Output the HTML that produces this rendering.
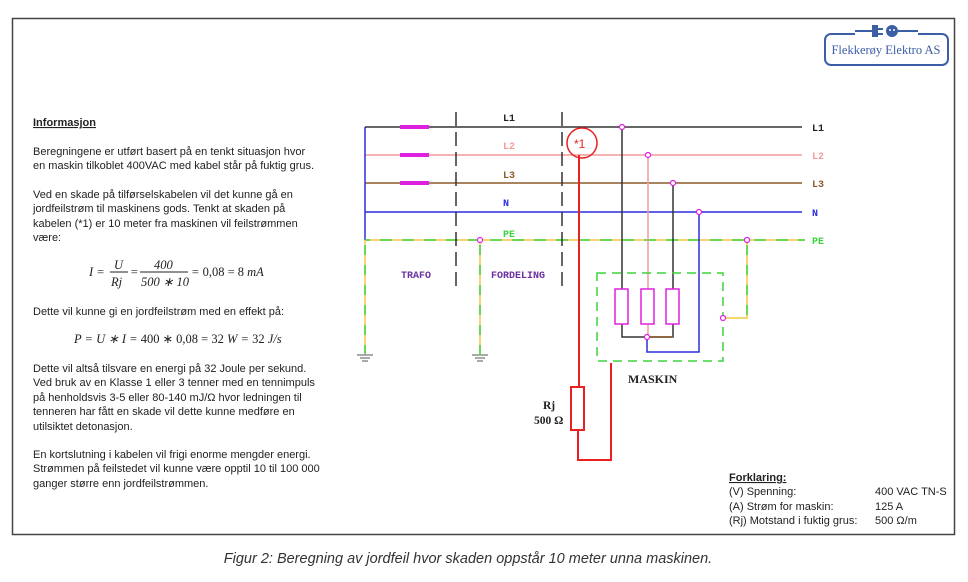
<!DOCTYPE html>
<html><head><meta charset="utf-8"><style>
body{margin:0;background:#fff;width:968px;height:582px;overflow:hidden}
svg{display:block}
.t{font-family:"Liberation Sans",sans-serif;font-size:11px;fill:#222}
.m{font-family:"Liberation Serif",serif;font-style:italic;font-size:12.5px;fill:#222}
.c{font-family:"Liberation Mono",monospace;font-size:10px;font-weight:bold}
</style></head><body>
<svg width="968" height="582" viewBox="0 0 968 582">
<rect x="12.5" y="18.5" width="942" height="516" fill="none" stroke="#444" stroke-width="1.5"/>
<!-- logo -->
<rect x="825" y="34" width="123" height="31" rx="6" fill="none" stroke="#3b5ea6" stroke-width="2"/>
<line x1="855" y1="34" x2="918" y2="34" stroke="#fff" stroke-width="3"/>
<line x1="855" y1="31" x2="872" y2="31" stroke="#3b5ea6" stroke-width="2"/>
<rect x="872" y="25" width="6" height="12" fill="#3b5ea6"/><rect x="878" y="28" width="5" height="2" fill="#3b5ea6"/><rect x="878" y="33" width="5" height="2" fill="#3b5ea6"/>
<circle cx="892" cy="31" r="6" fill="#3b5ea6"/><circle cx="890" cy="30" r="1" fill="#fff"/><circle cx="894" cy="30" r="1" fill="#fff"/>
<line x1="898" y1="31" x2="918" y2="31" stroke="#3b5ea6" stroke-width="2"/>
<text x="886" y="54" text-anchor="middle" font-family="Liberation Serif,serif" font-size="12.5" fill="#3b5ea6">Flekkerøy Elektro AS</text>
<!-- left text -->
<text class="t" x="33" y="126" font-weight="bold" text-decoration="underline">Informasjon</text>
<text class="t" x="33" y="155">Beregningene er utført basert på en tenkt situasjon hvor</text>
<text class="t" x="33" y="169">en maskin tilkoblet 400VAC med kabel står på fuktig grus.</text>
<text class="t" x="33" y="198">Ved en skade på tilførselskabelen vil det kunne gå en</text>
<text class="t" x="33" y="212">jordfeilstrøm til maskinens gods. Tenkt at skaden på</text>
<text class="t" x="33" y="227">kabelen (*1) er 10 meter fra maskinen vil feilstrømmen</text>
<text class="t" x="33" y="241">være:</text>
<text class="m" x="89" y="276">I =</text>
<text class="m" x="114" y="269">U</text><line x1="110" y1="272" x2="128" y2="272" stroke="#222"/><text class="m" x="111" y="286">Rj</text>
<text class="m" x="130" y="276">=</text>
<text class="m" x="154" y="269" font-style="normal">400</text><line x1="140" y1="272" x2="188" y2="272" stroke="#222"/><text class="m" x="141" y="286" font-style="normal">500 ∗ 10</text>
<text class="m" x="191" y="276">= <tspan font-style="normal">0,08 = 8</tspan> mA</text>
<text class="t" x="33" y="315">Dette vil kunne gi en jordfeilstrøm med en effekt på:</text>
<text class="m" x="74" y="343">P = U ∗ I = <tspan font-style="normal">400 ∗ 0,08 = 32</tspan> W = <tspan font-style="normal">32</tspan> J/s</text>
<text class="t" x="33" y="372">Dette vil altså tilsvare en energi på 32 Joule per sekund.</text>
<text class="t" x="33" y="386">Ved bruk av en Klasse 1 eller 3 tenner med en tennimpuls</text>
<text class="t" x="33" y="401">på henholdsvis 3-5 eller 80-140 mJ/Ω hvor ledningen til</text>
<text class="t" x="33" y="415">tenneren har fått en skade vil dette kunne medføre en</text>
<text class="t" x="33" y="430">utilsiktet detonasjon.</text>
<text class="t" x="33" y="458">En kortslutning i kabelen vil frigi enorme mengder energi.</text>
<text class="t" x="33" y="472">Strømmen på feilstedet vil kunne være opptil 10 til 100 000</text>
<text class="t" x="33" y="487">ganger større enn jordfeilstrømmen.</text>
<!-- diagram lines -->
<g stroke-width="1.5" fill="none">
<line x1="365" y1="127" x2="802" y2="127" stroke="#333"/>
<line x1="365" y1="155" x2="802" y2="155" stroke="#f49a9a"/>
<line x1="365" y1="183" x2="802" y2="183" stroke="#8b5a2b"/>
<line x1="365" y1="212" x2="802" y2="212" stroke="#2d2de0"/>
<line x1="365" y1="127" x2="365" y2="240" stroke="#2d2de0"/>
<line x1="365" y1="240" x2="805" y2="240" stroke="#f5c542"/>
<line x1="365" y1="240" x2="805" y2="240" stroke="#3ad43a" stroke-dasharray="12 10" stroke-dashoffset="-15"/>
<g stroke="#e020e0" stroke-width="4"><line x1="400" y1="127" x2="429" y2="127"/><line x1="400" y1="155" x2="429" y2="155"/><line x1="400" y1="183" x2="429" y2="183"/></g>
<line x1="456" y1="112" x2="456" y2="290" stroke="#333" stroke-dasharray="14 6"/>
<line x1="562" y1="112" x2="562" y2="290" stroke="#333" stroke-dasharray="14 6"/>
<line x1="365" y1="240" x2="365" y2="354" stroke="#f5c542"/>
<line x1="365" y1="240" x2="365" y2="354" stroke="#3ad43a" stroke-dasharray="10 10" stroke-dashoffset="-5"/>
<line x1="480" y1="240" x2="480" y2="354" stroke="#f5c542"/>
<line x1="480" y1="240" x2="480" y2="354" stroke="#3ad43a" stroke-dasharray="10 10" stroke-dashoffset="-5"/>
<g stroke="#555" stroke-width="1"><line x1="357" y1="355" x2="373" y2="355"/><line x1="360" y1="358" x2="370" y2="358"/><line x1="362" y1="361" x2="368" y2="361"/>
<line x1="472" y1="355" x2="488" y2="355"/><line x1="475" y1="358" x2="485" y2="358"/><line x1="477" y1="361" x2="483" y2="361"/></g>
<polyline points="622,127 622,337 673,337 673,183" stroke="#333"/>
<line x1="648" y1="337" x2="673" y2="337" stroke="#8b5a2b"/>
<line x1="648" y1="155" x2="648" y2="337" stroke="#f49a9a"/>
<polyline points="699,212 699,352 647,352 647,337" stroke="#2d2de0"/>
<g stroke="#e020e0" fill="#fff"><rect x="615" y="289" width="13" height="35"/><rect x="641" y="289" width="13" height="35"/><rect x="666" y="289" width="13" height="35"/></g>
<rect x="597" y="273" width="126" height="88" stroke="#3ad43a" stroke-dasharray="9 6"/>
<polyline points="747,240 747,318 723,318" stroke="#f5c542"/>
<polyline points="747,240 747,318" stroke="#3ad43a" stroke-dasharray="10 10" stroke-dashoffset="-5"/>
<circle cx="582" cy="143" r="15" stroke="#e82020"/>
<polyline points="579,155 579,387" stroke="#e82020" stroke-width="2"/>
<rect x="571" y="387" width="13" height="43" stroke="#e82020" stroke-width="2"/>
<polyline points="578,430 578,460 611,460 611,363" stroke="#e82020" stroke-width="2"/>
<g stroke="#e020e0" fill="#fff" stroke-width="1.2">
<circle cx="622" cy="127" r="2.5"/><circle cx="648" cy="155" r="2.5"/><circle cx="673" cy="183" r="2.5"/><circle cx="699" cy="212" r="2.5"/>
<circle cx="480" cy="240" r="2.5"/><circle cx="747" cy="240" r="2.5"/><circle cx="723" cy="318" r="2.5"/><circle cx="647" cy="337" r="2.5"/></g>
</g>
<text class="c" x="503" y="121" fill="#222">L1</text>
<text class="c" x="503" y="149" fill="#f49a9a">L2</text>
<text class="c" x="503" y="178" fill="#8b5a2b">L3</text>
<text class="c" x="503" y="206" fill="#2d2de0">N</text>
<text class="c" x="503" y="237" fill="#3ad43a">PE</text>
<text class="c" x="812" y="131" fill="#222">L1</text>
<text class="c" x="812" y="159" fill="#f49a9a">L2</text>
<text class="c" x="812" y="187" fill="#8b5a2b">L3</text>
<text class="c" x="812" y="216" fill="#2d2de0">N</text>
<text class="c" x="812" y="244" fill="#3ad43a">PE</text>
<text class="c" x="401" y="278" fill="#6a2fa0">TRAFO</text>
<text class="c" x="491" y="278" fill="#6a2fa0">FORDELING</text>
<text x="574" y="148" font-family="Liberation Sans,sans-serif" font-size="12" fill="#e82020">*1</text>
<text x="628" y="383" font-family="Liberation Serif,serif" font-size="12" font-weight="bold" fill="#222">MASKIN</text>
<text x="543" y="409" font-family="Liberation Serif,serif" font-size="11.5" font-weight="bold" fill="#222">Rj</text>
<text x="534" y="424" font-family="Liberation Serif,serif" font-size="11.5" font-weight="bold" fill="#222">500 Ω</text>
<text class="t" x="729" y="481" font-weight="bold" text-decoration="underline">Forklaring:</text>
<text class="t" x="729" y="495">(V) Spenning:</text><text class="t" x="875" y="495">400 VAC TN-S</text>
<text class="t" x="729" y="510">(A) Strøm for maskin:</text><text class="t" x="875" y="510">125 A</text>
<text class="t" x="729" y="524">(Rj) Motstand i fuktig grus:</text><text class="t" x="875" y="524">500 Ω/m</text>
<text x="468" y="563" text-anchor="middle" font-family="Liberation Sans,sans-serif" font-style="italic" font-size="14.5" fill="#333">Figur 2: Beregning av jordfeil hvor skaden oppstår 10 meter unna maskinen.</text>
</svg>
</body></html>
